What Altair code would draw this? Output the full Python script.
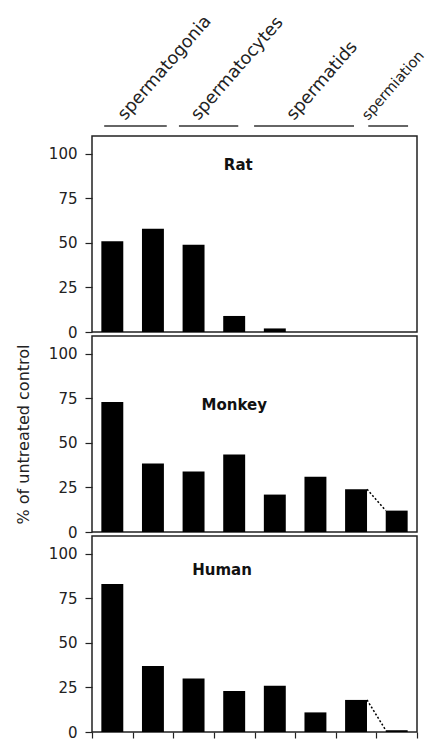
import altair as alt
import pandas as pd

# ---- data ----
stage_index = [1, 2, 3, 4, 5, 6, 7, 8]
rat = [51, 58, 49, 9, 2, None, None, None]
monkey = [73, 38.5, 34, 43.5, 21, 31, 24, 12]
human = [83, 37, 30, 23, 26, 11, 18, 1]

species = ["Rat", "Monkey", "Human"]
species_label_x = [3.6, 3.5, 3.2]
species_label_y = [94, 71, 91]

groups = ["spermatogonia", "spermatocytes", "spermatids", "spermiation"]
group_start = [0.30, 2.14, 3.99, 6.80]
group_end = [1.84, 3.60, 6.45, 7.78]

y_ticks = [0, 25, 50, 75, 100]

FONT = "DejaVu Sans"
INK = "#222"
PANEL_W = 325
HEADER_W = 338


def xscale(width=PANEL_W):
    return alt.Scale(domain=[0, 8 * width / PANEL_W], nice=False, zero=False)


def yscale():
    return alt.Scale(domain=[0, 110], nice=False)


def panel(name, values, lx, ly, show_x, y_title, connector):
    df = pd.DataFrame({"idx": [i - 1 for i in stage_index], "value": values}).dropna()
    if show_x:
        xaxis = alt.Axis(values=list(range(9)), labels=False, title=None, ticks=True,
                         tickSize=6, domain=False, grid=False, tickColor=INK, tickWidth=1.2)
    else:
        xaxis = None
    yaxis = alt.Axis(values=y_ticks, title=y_title, grid=False, domain=False,
                     tickSize=7, tickColor=INK, tickWidth=1.2, labelPadding=8,
                     labelFont=FONT, labelFontSize=15, labelColor=INK,
                     titleFont=FONT, titleFontSize=16, titleFontWeight="normal",
                     titleColor=INK, titlePadding=17)
    bars = alt.Chart(df).transform_calculate(
        x0="datum.idx + 0.23", x1="datum.idx + 0.77"
    ).mark_bar(color="black").encode(
        x=alt.X("x0:Q", scale=xscale(), axis=xaxis),
        x2="x1:Q",
        y=alt.Y("value:Q", scale=yscale(), axis=yaxis),
        y2=alt.datum(0),
    )
    tdf = pd.DataFrame({"name": [name], "lx": [lx], "ly": [ly]})
    label = alt.Chart(tdf).mark_text(font=FONT, fontSize=15, fontWeight="bold",
                                     color="#111").encode(
        x=alt.X("lx:Q", scale=xscale(), axis=xaxis),
        y=alt.Y("ly:Q", scale=yscale(), axis=yaxis),
        text="name:N",
    )
    layers = [bars, label]
    if connector:
        cdf = pd.DataFrame({"a": [values[6]], "b": [values[7]], "i": [6]})
        conn = alt.Chart(cdf).transform_calculate(
            xa="datum.i + 0.77", xb="datum.i + 1.23"
        ).mark_rule(color="black", strokeDash=[2, 2], strokeWidth=1.5).encode(
            x=alt.X("xa:Q", scale=xscale(), axis=xaxis),
            x2="xb:Q",
            y=alt.Y("a:Q", scale=yscale(), axis=yaxis),
            y2="b:Q",
        )
        layers.append(conn)
    return alt.layer(*layers).properties(width=PANEL_W, height=196)


gdf = pd.DataFrame({"group": groups, "start": group_start, "end": group_end})
header_rules = alt.Chart(gdf).mark_rule(color="#333", strokeWidth=1.5).encode(
    x=alt.X("start:Q", scale=xscale(HEADER_W), axis=None),
    x2="end:Q",
    y=alt.value(118),
)


def header_labels(keep_last, anchor_expr, size):
    base = alt.Chart(gdf).transform_calculate(anchor=anchor_expr)
    if keep_last:
        base = base.transform_filter(alt.datum.group == groups[-1])
    else:
        base = base.transform_filter(alt.datum.group != groups[-1])
    return base.mark_text(angle=311, align="left", baseline="alphabetic", font=FONT,
                          fontSize=size, color=INK).encode(
        x=alt.X("anchor:Q", scale=xscale(HEADER_W), axis=None),
        y=alt.value(113),
        text="group:N",
    )


header = alt.layer(
    header_rules,
    header_labels(False, "(datum.start + datum.end) / 2 - 0.25", 17.5),
    header_labels(True, "datum.start", 14.5),
).properties(width=HEADER_W, height=124, view=alt.ViewBackground(stroke=None))

rat_panel = panel(species[0], rat, species_label_x[0], species_label_y[0], False, " ", False)
monkey_panel = panel(species[1], monkey, species_label_x[1], species_label_y[1], False,
                     "% of untreated control", True)
human_panel = panel(species[2], human, species_label_x[2], species_label_y[2], True, " ", True)

chart = alt.vconcat(header, rat_panel, monkey_panel, human_panel, spacing=4,
                    bounds="flush").configure_view(
    stroke=INK, strokeWidth=1.5
).properties(
    padding={"left": 6, "top": 0, "right": 0, "bottom": 0}
)

chart.save("out.html", embed_options={"renderer": "svg", "actions": False})
